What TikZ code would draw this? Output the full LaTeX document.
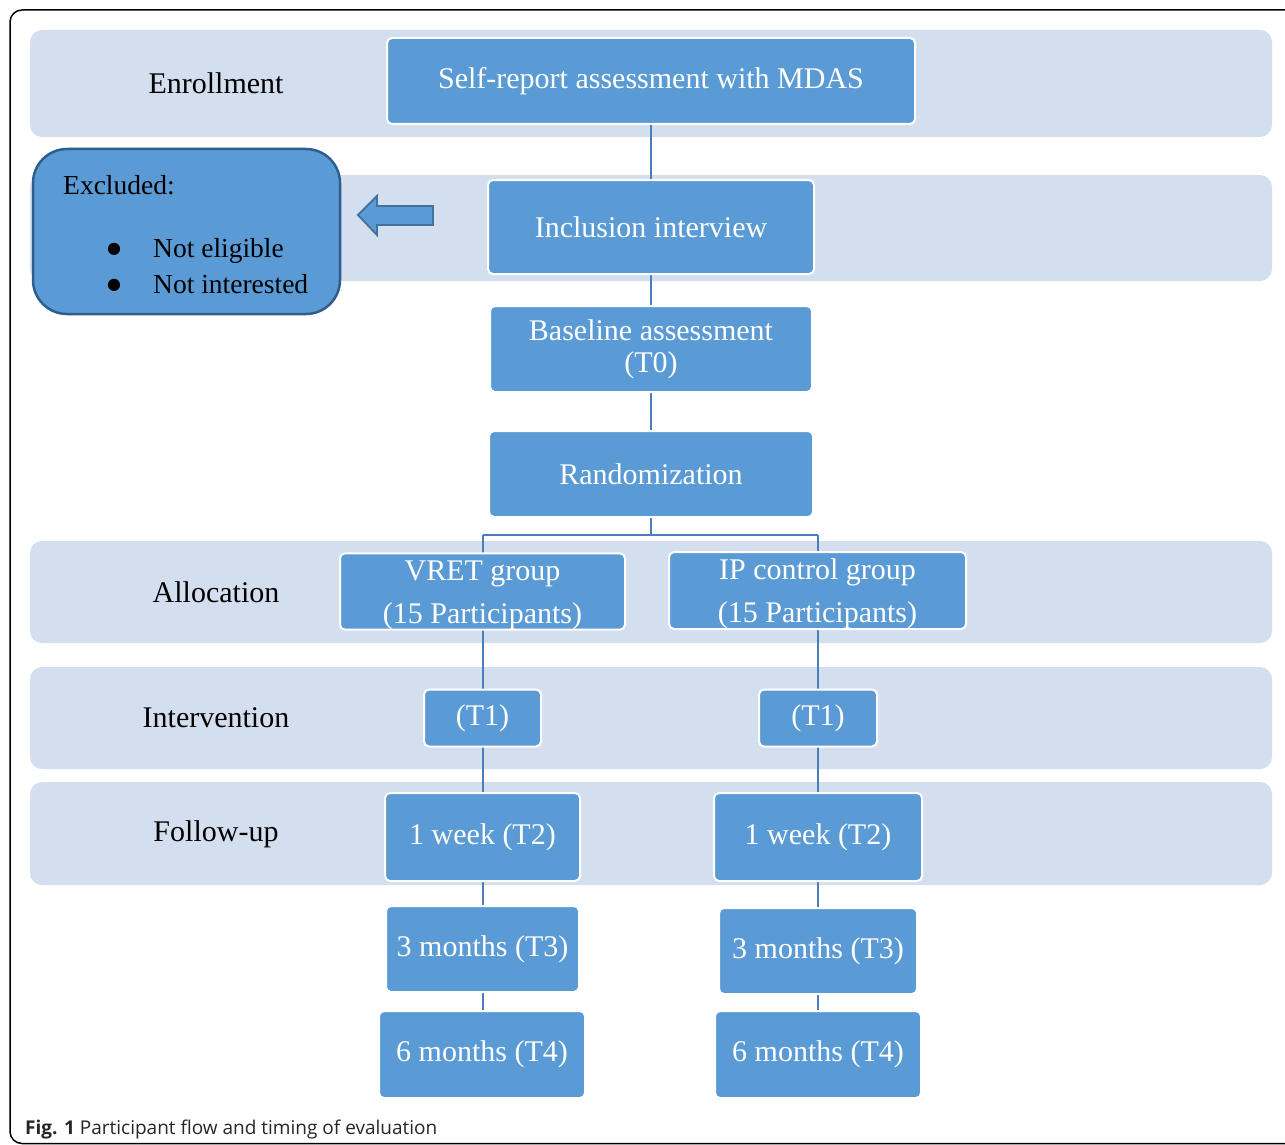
\documentclass[tikz,border=0pt]{standalone}
\usepackage{fontspec}
\setmainfont{Liberation Serif}
\newfontfamily\capfont{Open Sans}
\newfontfamily\symfont{DejaVu Sans}
\definecolor{bandc}{HTML}{D3DEEF}
\definecolor{boxc}{HTML}{5B9BD5}
\definecolor{edgec}{HTML}{2F5E8E}
\definecolor{connc}{HTML}{4A7EBB}
\definecolor{arrowedge}{HTML}{41719C}
\tikzset{
  band/.style={fill=bandc, rounded corners=12pt},
  bx/.style={draw=white, line width=2pt, fill=boxc, rounded corners=5pt, text=white,
    font=\fontsize{30}{32}\selectfont, inner sep=0pt, align=center},
  lbl/.style={font=\fontsize{30}{34}\selectfont, text=black},
  conn/.style={draw=connc, line width=2pt},
  exctext/.style={font=\fontsize{27.5}{30}\selectfont, text=black, anchor=base west, inner sep=0pt},
  bul/.style={font=\symfont\fontsize{16}{18}\selectfont, text=black, anchor=base, inner sep=0pt}
}
\begin{document}
\begin{tikzpicture}[x=1pt,y=-1pt]
\useasboundingbox (0,0) rectangle (1285,1145);
\fill[white] (0,0) rectangle (1285,1145);
\begin{scope}
\clip (0,0) rectangle (1285,1145);
\draw[line width=1.5pt, rounded corners=12pt] (10,10) rectangle (1330,1143.5);
\end{scope}
% bands
\fill[band] (30,30) rectangle (1272,137);
\fill[band] (30,175) rectangle (1272,281);
\fill[band] (30,541) rectangle (1272,643);
\fill[band] (30,667) rectangle (1272,769);
\fill[band] (30,782) rectangle (1272,885);
% stage labels
\node[lbl] (lenr) at (216,83) {Enrollment};
\node[lbl] (lall) at (216,592) {Allocation};
\node[lbl] (lint) at (216,718) {Intervention};
\node[lbl] (lfol) at (216,834) {Follow-up};
% connectors (behind boxes)
\coordinate (split) at (651,535);
\draw[conn] (651,123) -- (651,179);
\draw[conn] (651,273) -- (651,305);
\draw[conn] (651,391) -- (651,430);
\draw[conn] (651,516) -- (split);
\draw[conn] (483,535) -- (818,535);
\draw[conn] (483,535) -- (483,554);
\draw[conn] (818,535) -- (818,552);
\draw[conn] (483,629) -- (483,1010);
\draw[conn] (818,629) -- (818,1010);
% boxes
\node[bx, minimum width=528pt, minimum height=86pt] (sr) at (651,81) {Self-report assessment with MDAS};
\node[bx, minimum width=326pt, minimum height=94pt] (inc) at (651,227) {Inclusion interview};
\node[bx, minimum width=322pt, minimum height=86pt] (base) at (651,349) {Baseline assessment\\(T0)};
\node[bx, minimum width=324pt, minimum height=86pt] (rand) at (651,474) {Randomization};
\node[bx, minimum width=285pt, minimum height=75pt] (vret) at (482.5,591.5) {\rule{0pt}{27pt}VRET group\\[11pt](15 Participants)};
\node[bx, minimum width=297pt, minimum height=77pt] (ip) at (817.5,590.5) {\rule{0pt}{27pt}IP control group\\[11pt](15 Participants)};
\node[bx, minimum width=117pt, minimum height=57pt] (t1a) at (482.5,718) {(T1)};
\node[bx, minimum width=118pt, minimum height=57pt] (t1b) at (818,718) {(T1)};
\node[bx, minimum width=195pt, minimum height=88pt] (w1a) at (482.5,837) {1 week (T2)};
\node[bx, minimum width=208pt, minimum height=88pt] (w1b) at (818,837) {1 week (T2)};
\node[bx, minimum width=193pt, minimum height=86pt] (m3a) at (482.5,949) {3 months (T3)};
\node[bx, minimum width=198pt, minimum height=86pt] (m3b) at (818,951) {3 months (T3)};
\node[bx, minimum width=206pt, minimum height=87pt] (m6a) at (482,1054.5) {6 months (T4)};
\node[bx, minimum width=206pt, minimum height=87pt] (m6b) at (818,1054.5) {6 months (T4)};
% excluded box
\node[draw=edgec, line width=2.5pt, fill=boxc, rounded corners=34pt,
      minimum width=307pt, minimum height=165pt, inner sep=0pt] (exc) at (186.5,231.5) {};
\node[exctext] (ext) at (63,194) {Excluded:};
\node[bul] (b1) at (114,253) {●};
\node[exctext] (e1) at (153,257) {Not eligible};
\node[bul] (b2) at (114,289) {●};
\node[exctext] (e2) at (153,293) {Not interested};
% block arrow
\draw[fill=boxc, draw=arrowedge, line width=1.8pt, line join=miter]
  (358,215) -- (377,196) -- (377,206) -- (433,206) -- (433,225) -- (377,225) -- (377,235) -- cycle;
% caption
\node[anchor=base west, inner sep=0pt, font=\capfont\fontsize{19}{22}\selectfont, text=black!85] (cap) at (25,1134)
  {\textbf{Fig. 1} Participant flow and timing of evaluation};
\end{tikzpicture}
\end{document}
